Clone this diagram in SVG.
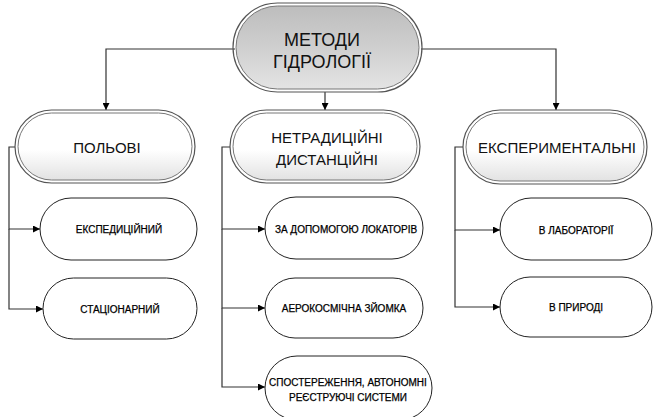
<svg xmlns="http://www.w3.org/2000/svg" width="655" height="417" viewBox="0 0 655 417">
<defs>
<linearGradient id="gTop" x1="0" y1="0" x2="0" y2="1">
<stop offset="0" stop-color="#bdbdbd"/><stop offset="0.5" stop-color="#cfcfcf"/><stop offset="1" stop-color="#e4e4e4"/>
</linearGradient>
<linearGradient id="gMid" x1="0" y1="0" x2="0" y2="1">
<stop offset="0" stop-color="#ffffff"/><stop offset="0.55" stop-color="#ffffff"/><stop offset="1" stop-color="#e2e2e2"/>
</linearGradient>
<marker id="ar" viewBox="0 0 10 10" refX="10" refY="5" markerWidth="9" markerHeight="7" markerUnits="userSpaceOnUse" orient="auto">
<path d="M0,0 L10,5 L0,10 z" fill="#000"/>
</marker>
</defs>
<style>
.outer{fill:none;stroke:#555;stroke-width:1.2}
.inner{stroke:#777;stroke-width:1}
.leaf{fill:#fff;stroke:#222;stroke-width:1}
.con{fill:none;stroke:#333;stroke-width:1.2;marker-end:url(#ar)}
.t1{font-family:"Liberation Sans",Arial,sans-serif;font-size:18px;fill:#111;text-anchor:middle}
.t2{font-family:"Liberation Sans",Arial,sans-serif;font-size:15px;fill:#111;text-anchor:middle}
.t3{font-family:"Liberation Sans",Arial,sans-serif;font-size:10px;fill:#000;stroke:#000;stroke-width:0.25;text-anchor:middle}
</style>
<rect width="655" height="417" fill="#fff"/>
<g id="connectors">
<path class="con" d="M235,49 H106 V110"/>
<path class="con" d="M421,49 H556 V110"/>
<path class="con" d="M325,92 V110"/>
<path class="con" d="M15,147 H9 V229 H40"/>
<path class="con" d="M9,229 V309 H43"/>
<path class="con" d="M230,147 H222 V229 H265"/>
<path class="con" d="M222,229 V308 H265"/>
<path class="con" d="M222,308 V387 H265"/>
<path class="con" d="M463,147 H455 V230 H500"/>
<path class="con" d="M455,230 V307 H500"/>
</g>
<g id="n-metody">
<rect x="233" y="3" width="189" height="89" rx="44.5" class="outer"/>
<rect x="236" y="6" width="183" height="83" rx="41.5" fill="url(#gTop)" class="inner"/>
<text x="322" y="46" class="t1">МЕТОДИ</text>
<text x="322" y="68" class="t1">ГІДРОЛОГІЇ</text>
</g>
<g id="n-polovi">
<rect x="15" y="110" width="180" height="73" rx="36.5" class="outer"/>
<rect x="18" y="113" width="174" height="67" rx="33.5" fill="url(#gMid)" class="inner"/>
<text x="107" y="153" class="t2">ПОЛЬОВІ</text>
</g>
<g id="n-netrad">
<rect x="230" y="110" width="190" height="73" rx="36.5" class="outer"/>
<rect x="233" y="113" width="184" height="67" rx="33.5" fill="url(#gMid)" class="inner"/>
<text x="327" y="143" class="t2">НЕТРАДИЦІЙНІ</text>
<text x="327" y="165" class="t2">ДИСТАНЦІЙНІ</text>
</g>
<g id="n-eksper">
<rect x="463" y="110" width="184" height="74" rx="37" class="outer"/>
<rect x="466" y="113" width="178" height="68" rx="34" fill="url(#gMid)" class="inner"/>
<text x="557" y="153" class="t2">ЕКСПЕРИМЕНТАЛЬНІ</text>
</g>
<g id="n-ekspedyc">
<rect x="40" y="198" width="157" height="62" rx="31" class="leaf"/>
<text x="119" y="233" class="t3">ЕКСПЕДИЦІЙНИЙ</text>
</g>
<g id="n-stac">
<rect x="43" y="278" width="154" height="61" rx="30.5" class="leaf"/>
<text x="120" y="313" class="t3">СТАЦІОНАРНИЙ</text>
</g>
<g id="n-lokator">
<rect x="265" y="197" width="158" height="62" rx="31" class="leaf"/>
<text x="346" y="233" class="t3">ЗА ДОПОМОГОЮ ЛОКАТОРІВ</text>
</g>
<g id="n-aero">
<rect x="265" y="278" width="158" height="60" rx="30" class="leaf"/>
<text x="344" y="312" class="t3">АЕРОКОСМІЧНА ЗЙОМКА</text>
</g>
<g id="n-sposter">
<rect x="265" y="356" width="167" height="64" rx="32" class="leaf"/>
<text x="348" y="386" class="t3">СПОСТЕРЕЖЕННЯ, АВТОНОМНІ</text>
<text x="348" y="401" class="t3">РЕЄСТРУЮЧІ СИСТЕМИ</text>
</g>
<g id="n-lab">
<rect x="500" y="198" width="152" height="62" rx="31" class="leaf"/>
<text x="576" y="234" class="t3">В ЛАБОРАТОРІЇ</text>
</g>
<g id="n-pryroda">
<rect x="500" y="277" width="152" height="60" rx="30" class="leaf"/>
<text x="576" y="311" class="t3">В ПРИРОДІ</text>
</g>
</svg>
